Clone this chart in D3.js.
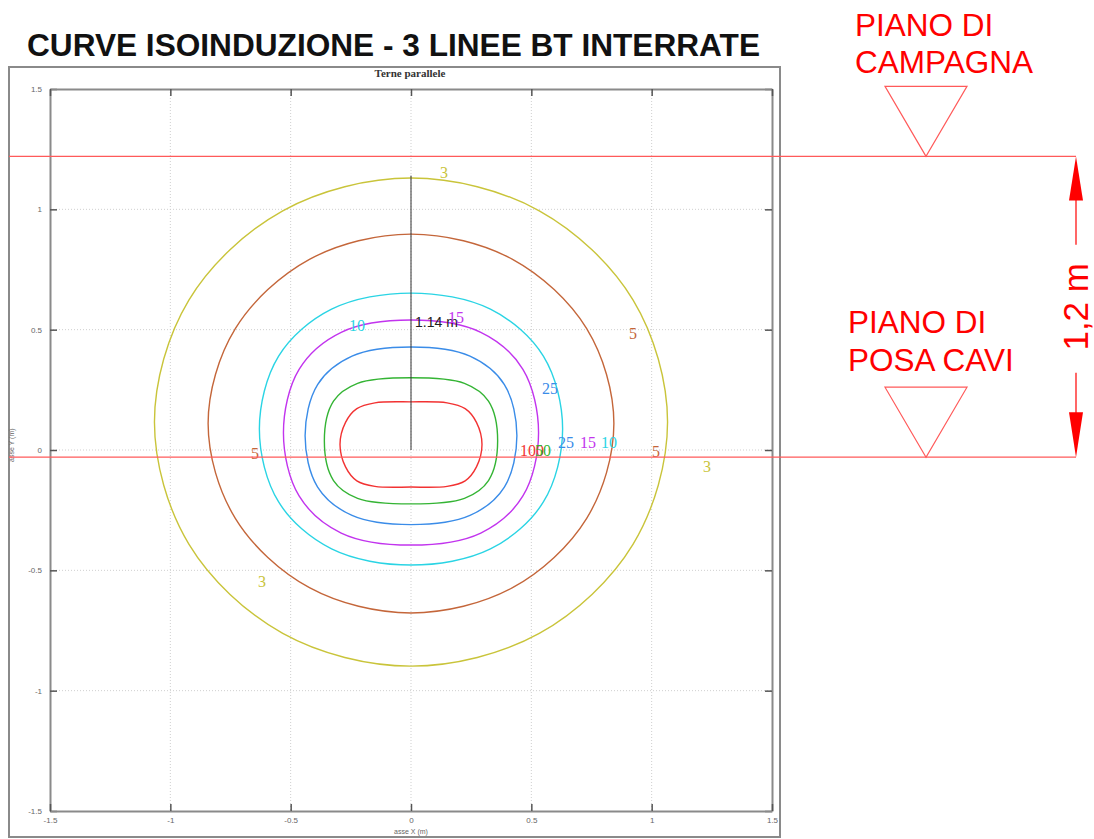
<!DOCTYPE html>
<html><head><meta charset="utf-8">
<script src="https://cdn.jsdelivr.net/npm/d3@7"></script>
<style>body{margin:0;background:#fff}svg{display:block}</style>
</head><body><svg id="c" width="1094" height="839"></svg>
<script>
// ---------------- data ----------------
const chartTitle = "CURVE ISOINDUZIONE - 3 LINEE BT INTERRATE";
const plotTitle = "Terne parallele";
const levels = [3, 5, 10, 15, 25, 50, 100];           // µT
const levelColors = ["#c9c43a", "#c4663a", "#2ad4e4", "#c234ee", "#3a8ce8", "#34b434", "#f23232"];
// right half of each isoline (x, y in metres), from top to bottom; the left half is the mirror
const iso3   = [[0,1.130],[0.533,0.994],[0.923,0.623],[1.066,0.116],[0.923,-0.391],[0.533,-0.762],[0,-0.898]];
const iso5   = [[0,0.897],[0.422,0.792],[0.730,0.504],[0.843,0.110],[0.730,-0.284],[0.422,-0.572],[0,-0.677]];
const iso10  = [[0,0.652],[0.330,0.585],[0.550,0.390],[0.630,0.087],[0.550,-0.216],[0.330,-0.411],[0,-0.478]];
const iso15  = [[0,0.540],[0.290,0.489],[0.465,0.335],[0.530,0.072],[0.465,-0.191],[0.290,-0.345],[0,-0.395]];
const iso25  = [[0,0.428],[0.245,0.390],[0.388,0.272],[0.440,0.059],[0.388,-0.154],[0.245,-0.272],[0,-0.310]];
const iso50  = [[0,0.300],[0.222,0.277],[0.322,0.203],[0.360,0.038],[0.322,-0.127],[0.222,-0.201],[0,-0.224]];
const iso100 = [[0,0.200],[0.150,0.196],[0.225,0.172],[0.272,0.115],[0.295,0.023],[0.272,-0.070],[0.225,-0.128],[0.150,-0.151],[0,-0.154]];
const isolines = [iso3, iso5, iso10, iso15, iso25, iso50, iso100];
// contour labels: [level, x, y]  (metres)
const isoLabels = [
  [3, 0.137, 1.130], [3, 1.230, -0.091], [3, -0.619, -0.569],
  [5, 0.922, 0.461], [5, 1.018, -0.029], [5, -0.648, -0.037],
  [10, -0.224, 0.494], [10, 0.823, 0.008],
  [15, 0.187, 0.528], [15, 0.735, 0.008],
  [25, 0.578, 0.233], [25, 0.644, 0.008],
  [100, 0.503, -0.025], [50, 0.548, -0.025]
];
const xTicks = [-1.5, -1, -0.5, 0, 0.5, 1, 1.5];
const yTicks = [-1.5, -1, -0.5, 0, 0.5, 1, 1.5];
const xLabel = "asse X (m)", yLabel = "asse Y (m)";
const distance = 1.14;          // m, vertical from cables
const distanceLabel = "1.14 m";
const groundLevel = 1.22;       // piano di campagna (m)
const layingLevel = -0.03;      // piano di posa cavi (m)
const depthLabel = "1,2 m";
const groundText = ["PIANO DI", "CAMPAGNA"];
const layingText = ["PIANO DI", "POSA CAVI"];

// ---------------- drawing ----------------
const svg = d3.select("#c");
const x = d3.scaleLinear().domain([-1.5, 1.5]).range([50, 772]);
const y = d3.scaleLinear().domain([-1.5, 1.5]).range([811, 89]);
const colorOf = d3.scaleOrdinal().domain(levels).range(levelColors);

svg.append("rect").attr("width", 1094).attr("height", 839).attr("fill", "#fff");

// title
svg.append("text").attr("x", 27).attr("y", 56)
  .attr("font-family", "Liberation Sans, Arial, sans-serif").attr("font-weight", "bold")
  .attr("font-size", 31).attr("textLength", 733).attr("lengthAdjust", "spacingAndGlyphs")
  .attr("fill", "#111").text(chartTitle);

// outer frame
svg.append("rect").attr("x", 9).attr("y", 67).attr("width", 771).attr("height", 770)
  .attr("fill", "none").attr("stroke", "#8a8a8a").attr("stroke-width", 2);
svg.append("text").attr("x", 410).attr("y", 77).attr("text-anchor", "middle")
  .attr("font-family", "Liberation Serif, Times New Roman, serif").attr("font-weight", "bold")
  .attr("font-size", 11).attr("fill", "#333").text(plotTitle);

// grid
const grid = svg.append("g").attr("stroke", "#cfcfcf").attr("stroke-width", 1).attr("stroke-dasharray", "1,2");
grid.selectAll(".gx").data(xTicks.slice(1, -1)).join("line")
  .attr("x1", d => x(d)).attr("x2", d => x(d)).attr("y1", y(1.5)).attr("y2", y(-1.5));
grid.selectAll(".gy").data(yTicks.slice(1, -1)).join("line")
  .attr("y1", d => y(d)).attr("y2", d => y(d)).attr("x1", x(-1.5)).attr("x2", x(1.5));

// axes
function styleAxis(g) {
  g.selectAll(".domain").attr("stroke", "#8a8a8a").attr("stroke-width", 2);
  g.selectAll(".tick line").attr("stroke", "#555").attr("stroke-width", 1.5);
  g.selectAll(".tick text").attr("fill", "#666").attr("font-size", 8)
    .attr("font-family", "Liberation Sans, Arial, sans-serif");
}
svg.append("g").attr("transform", `translate(${x(-1.5)},0)`)
  .call(d3.axisLeft(y).tickValues(yTicks).tickSize(-7).tickSizeOuter(0).tickPadding(8).tickFormat(d => String(d)))
  .call(styleAxis);
svg.append("g").attr("transform", `translate(${x(1.5)},0)`)
  .call(d3.axisRight(y).tickValues(yTicks).tickSize(-7).tickSizeOuter(0).tickFormat(""))
  .call(styleAxis);
svg.append("g").attr("transform", `translate(0,${y(-1.5)})`)
  .call(d3.axisBottom(x).tickValues(xTicks).tickSize(-7).tickSizeOuter(0).tickPadding(6).tickFormat(d => String(d)))
  .call(styleAxis);
svg.append("g").attr("transform", `translate(0,${y(1.5)})`)
  .call(d3.axisTop(x).tickValues(xTicks).tickSize(-7).tickSizeOuter(0).tickFormat(""))
  .call(styleAxis);

svg.append("text").attr("x", x(0)).attr("y", 834).attr("text-anchor", "middle")
  .attr("font-family", "Liberation Sans, Arial, sans-serif").attr("font-size", 7).attr("fill", "#666").text(xLabel);
svg.append("text").attr("transform", `translate(14,${y(0.02)}) rotate(-90)`).attr("text-anchor", "middle")
  .attr("font-family", "Liberation Sans, Arial, sans-serif").attr("font-size", 7).attr("fill", "#666").text(yLabel);

// isolines
const line = d3.line().x(d => x(d[0])).y(d => y(d[1])).curve(d3.curveCatmullRomClosed.alpha(0.5));
const rings = isolines.map(r => r.concat(r.slice(1, -1).reverse().map(([a, b]) => [-a, b])));
svg.append("g").selectAll("path").data(rings).join("path")
  .attr("d", line).attr("fill", "none")
  .attr("stroke", (d, i) => colorOf(levels[i])).attr("stroke-width", 1.4);

// distance line
svg.append("line").attr("x1", x(0)).attr("x2", x(0)).attr("y1", y(0)).attr("y2", y(distance))
  .attr("stroke", "#333").attr("stroke-width", 1);
svg.append("text").attr("x", x(0) + 4).attr("y", y(0.51))
  .attr("font-family", "Liberation Sans, Arial, sans-serif").attr("font-size", 14).attr("fill", "#222")
  .text(distanceLabel);

// contour labels
svg.append("g").selectAll("text").data(isoLabels).join("text")
  .attr("x", d => x(d[1])).attr("y", d => y(d[2])).attr("text-anchor", "middle")
  .attr("font-family", "Liberation Serif, Times New Roman, serif").attr("font-size", 16)
  .attr("fill", d => colorOf(d[0])).text(d => d[0]);

// red annotations
const red = "#ff0000";
const xEnd = 1076, xTri = 926;
[groundLevel, layingLevel].forEach(lv => {
  svg.append("line").attr("x1", 9).attr("x2", xEnd).attr("y1", y(lv)).attr("y2", y(lv))
    .attr("stroke", "#ff5a5a").attr("stroke-width", 1.2);
  const ty = y(lv);
  svg.append("path").attr("d", `M${xTri},${ty} L${xTri - 41},${ty - 70} L${xTri + 41},${ty - 70} Z`)
    .attr("fill", "none").attr("stroke", "#ff5a5a").attr("stroke-width", 1.2);
});
const labelFont = "Liberation Sans, Arial, sans-serif";
groundText.forEach((t, i) => svg.append("text").attr("x", 855).attr("y", 36 + i * 37)
  .attr("font-family", labelFont).attr("font-size", 31.5).attr("fill", red).text(t));
layingText.forEach((t, i) => svg.append("text").attr("x", 848).attr("y", 333 + i * 38)
  .attr("font-family", labelFont).attr("font-size", 31.5).attr("fill", red).text(t));

// dimension
const yTop = y(groundLevel), yBot = y(layingLevel), yMid = (yTop + yBot) / 2;
svg.append("path").attr("d", `M${xEnd},${yTop} L${xEnd - 7},${yTop + 44} L${xEnd + 7},${yTop + 44} Z`).attr("fill", red);
svg.append("path").attr("d", `M${xEnd},${yBot} L${xEnd - 7},${yBot - 45} L${xEnd + 7},${yBot - 45} Z`).attr("fill", red);
svg.append("line").attr("x1", xEnd).attr("x2", xEnd).attr("y1", yTop + 40).attr("y2", yMid - 62).attr("stroke", red).attr("stroke-width", 1.2);
svg.append("line").attr("x1", xEnd).attr("x2", xEnd).attr("y1", yMid + 66).attr("y2", yBot - 40).attr("stroke", red).attr("stroke-width", 1.2);
svg.append("text").attr("transform", `translate(${xEnd + 12},${yMid}) rotate(-90)`).attr("text-anchor", "middle")
  .attr("font-family", labelFont).attr("font-size", 35).attr("fill", red).text(depthLabel);
</script>
</body></html>
